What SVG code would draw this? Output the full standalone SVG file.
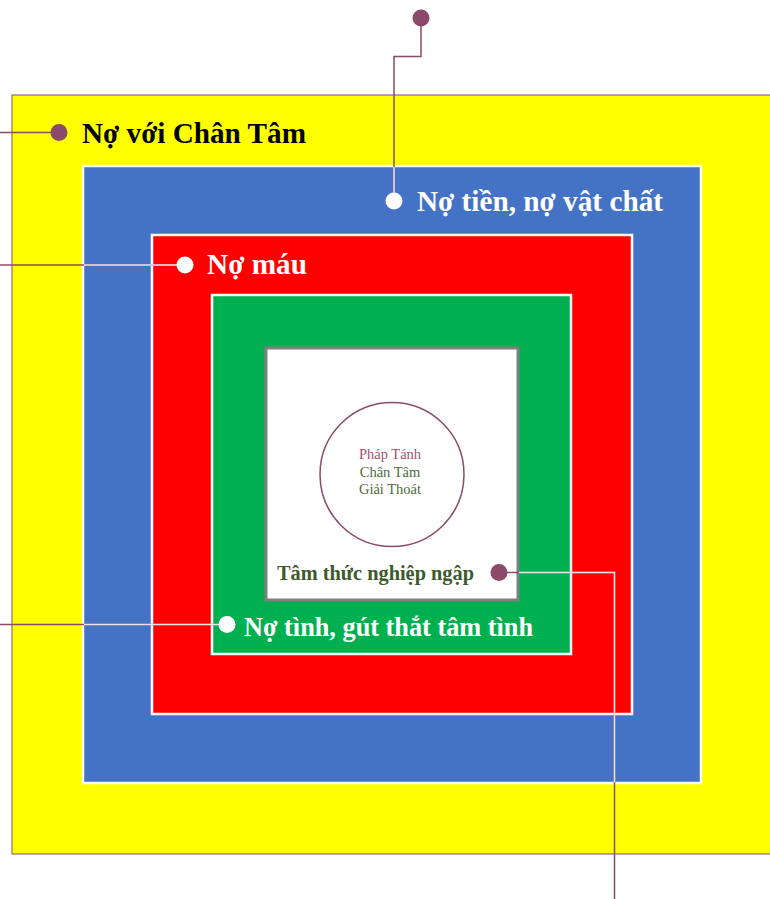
<svg xmlns="http://www.w3.org/2000/svg" width="770" height="899" viewBox="0 0 770 899">
<style>
.lbl{font-family:"Liberation Serif","Times New Roman",serif;font-weight:bold;font-size:29px}
.w{fill:#FFFFFF}
.k{fill:#000000}
.box{stroke:#FFFFFF;stroke-width:2.5}
.cp{fill:none;stroke:#8C4A6A;stroke-width:1.5}
.cw{fill:none;stroke:#F2E6EC;stroke-width:1.5}
.dp{fill:#8C4A6A}
.dw{fill:#FFFFFF}
.small{font-family:"Liberation Serif","Times New Roman",serif;font-size:14.5px;text-anchor:middle}
</style>
<g id="yellow">
<rect x="12" y="95" width="770" height="759" fill="#FFFF00" stroke="#8C4A6A" stroke-width="1"/>
<text class="lbl k" x="82" y="143" textLength="224" lengthAdjust="spacingAndGlyphs">Nợ với Chân Tâm</text>
</g>
<g id="blue">
<rect class="box" x="83" y="166" width="618" height="617" fill="#4472C4"/>
<text class="lbl w" x="417" y="211" textLength="246" lengthAdjust="spacingAndGlyphs">Nợ tiền, nợ vật chất</text>
</g>
<g id="red">
<rect class="box" x="152" y="235" width="480" height="479" fill="#FF0000"/>
<text class="lbl w" x="207" y="274" textLength="100" lengthAdjust="spacingAndGlyphs">Nợ máu</text>
</g>
<g id="green">
<rect class="box" x="212" y="295" width="359" height="359" fill="#00B050"/>
<text class="lbl w" x="244" y="636" style="font-size:28px" textLength="289" lengthAdjust="spacingAndGlyphs">Nợ tình, gút thắt tâm tình</text>
</g>
<g id="core">
<rect x="266" y="348" width="252" height="252" fill="#FFFFFF" stroke="#7F7F7F" stroke-width="3"/>
<text x="277" y="580" font-family="Liberation Serif, Times New Roman, serif" font-weight="bold" font-size="20.5" fill="#3D5A2A" textLength="197" lengthAdjust="spacingAndGlyphs">Tâm thức nghiệp ngập</text>
</g>
<g id="center">
<circle cx="392" cy="474.5" r="72" fill="none" stroke="#8C4A6A" stroke-width="1.5"/>
<text class="small" x="390" y="459" fill="#A0506E">Pháp Tánh</text>
<text class="small" x="390" y="477" fill="#4F6B3A">Chân Tâm</text>
<text class="small" x="390" y="494" fill="#4F6B3A">Giải Thoát</text>
</g>
<g id="connectors">
<path class="cp" d="M0 132.5H59"/>
<path class="cp" d="M421 18V56.5H394V201"/>
<path class="cw" d="M394 167V201"/>
<path class="cp" d="M0 265H185"/>
<path class="cw" d="M84 265H185"/>
<path class="cp" d="M0 624.5H227"/>
<path class="cw" d="M84 624.5H227"/>
<path class="cp" d="M499 572.5H614.5V899"/>
<path class="cw" d="M519 572.5H614.5V782"/>
<circle class="dp" cx="59" cy="132.5" r="8.5"/>
<circle class="dp" cx="421" cy="18" r="8.5"/>
<circle class="dw" cx="394" cy="201" r="8.5"/>
<circle class="dw" cx="185" cy="265" r="8.5"/>
<circle class="dw" cx="227" cy="624.5" r="8.5"/>
<circle class="dp" cx="499" cy="572.5" r="8.5"/>
</g>
</svg>
